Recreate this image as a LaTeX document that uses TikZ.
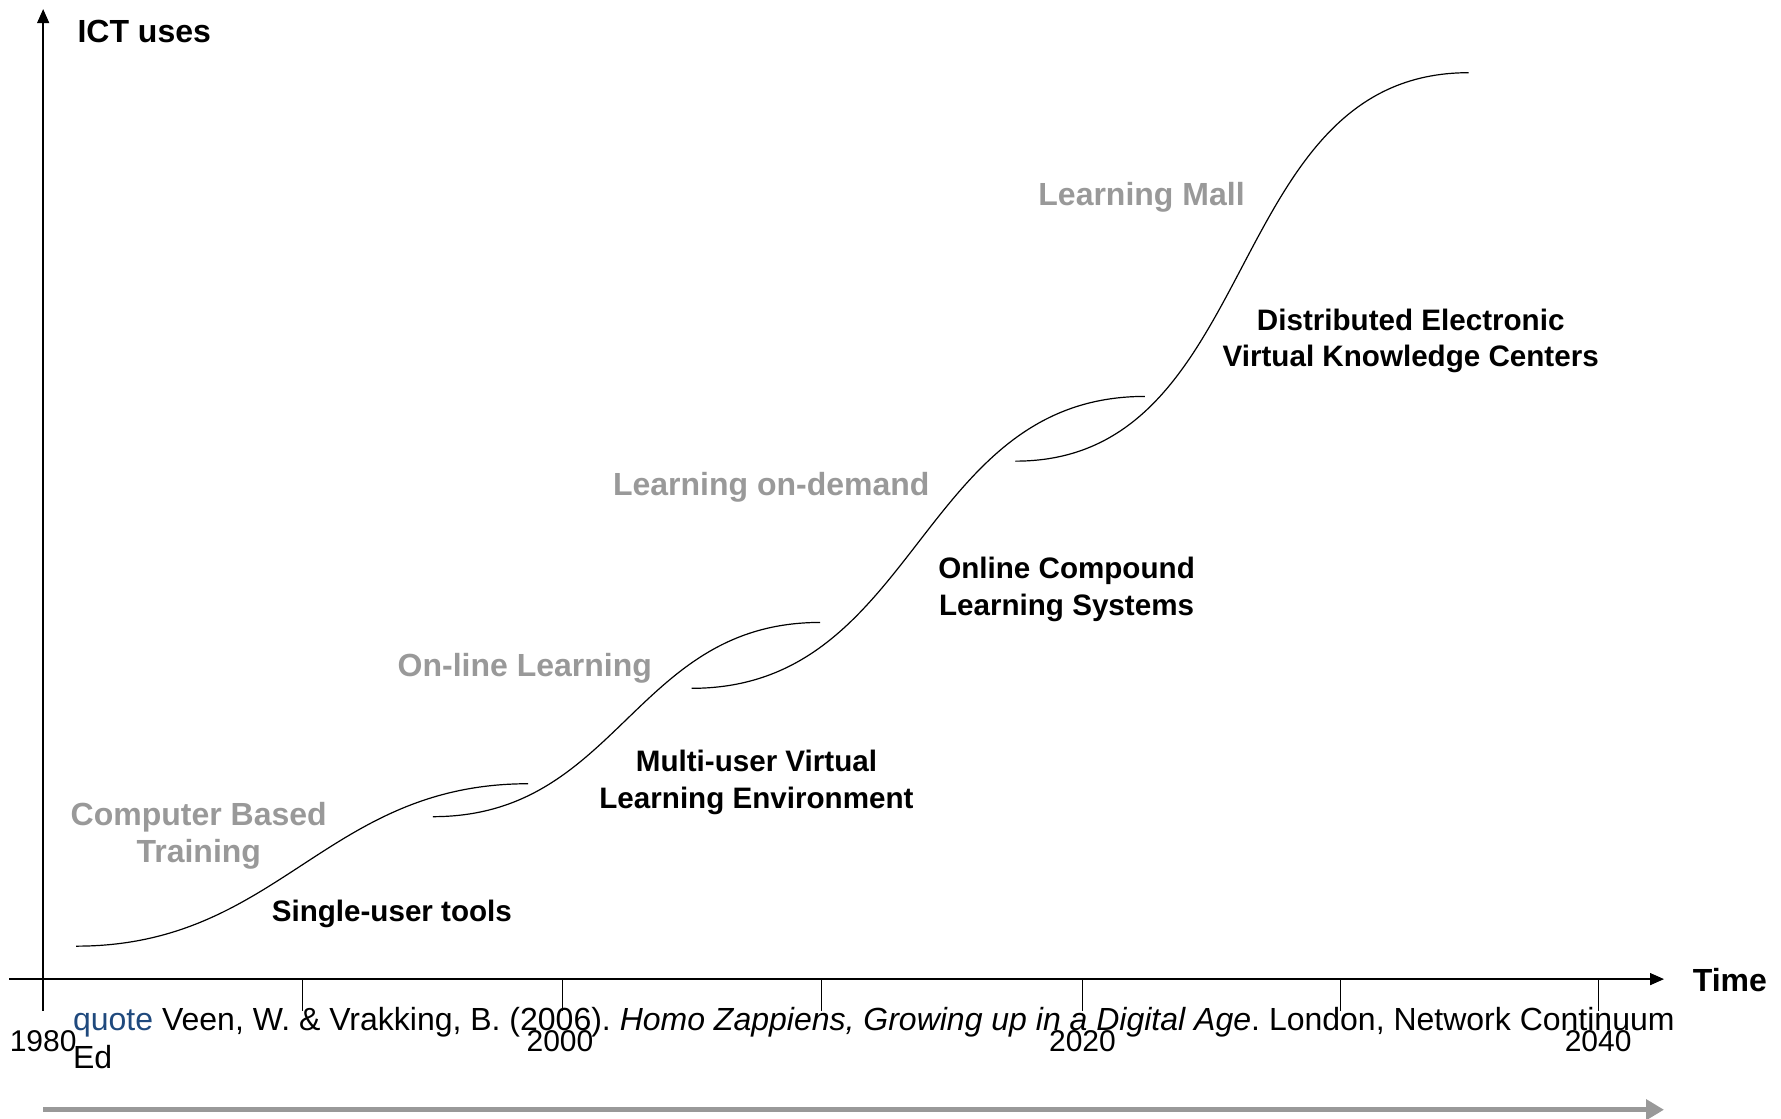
\documentclass[tikz,border=0pt]{standalone}
\usepackage{fontspec}
\setmainfont{Liberation Sans}
\usetikzlibrary{arrows.meta}
\definecolor{lblgray}{RGB}{153,153,153}
\definecolor{quoteblue}{RGB}{31,73,125}
\frenchspacing
\begin{document}
\begin{tikzpicture}[x=0.5679pt,y=-0.5679pt,
  axisline/.style={line width=0.7pt, -{Triangle[length=7pt,width=6pt]}},
  tickline/.style={line width=0.6pt},
  scurve/.style={line width=0.6pt},
  phase/.style={font=\fontsize{16}{18.7}\selectfont\bfseries, text=lblgray, align=center, inner sep=0pt},
  tool/.style={font=\fontsize{14.8}{18.2}\selectfont\bfseries, align=center, inner sep=0pt},
  axlbl/.style={font=\fontsize{16}{19}\selectfont\bfseries, inner sep=0pt},
  ticklbl/.style={font=\fontsize{15}{18}\selectfont, anchor=base, inner sep=0pt},
  citetext/.style={font=\fontsize{16}{19}\selectfont\frenchspacing, anchor=base west, inner sep=0pt},
  timearrow/.style={line width=2.5pt, lblgray, -{Triangle[length=9pt,width=10pt]}}
]
\useasboundingbox (0,0) rectangle (1568,985);

% axes
\coordinate (yb) at (38,890);
\coordinate (yt) at (38,8);
\coordinate (xl) at (8,862);
\coordinate (xr) at (1465,862);
\draw[axisline] (yb) -- (yt);
\draw[axisline] (xl) -- (xr);
\foreach \x in {266,495,723,953,1180,1407}
  \draw[tickline] (\x,862) -- (\x,890);

\node[axlbl] (ict) at (127,28) {ICT uses};
\node[axlbl] (time) at (1523,863) {Time};

\node[ticklbl] (t1980) at (38,926) {1980};
\node[ticklbl] (t2000) at (493,926) {2000};
\node[ticklbl] (t2020) at (953,926) {2020};
\node[ticklbl] (t2040) at (1407,926) {2040};

% curves
\coordinate (c1s) at (67,833);  \coordinate (c1e) at (465,690);
\coordinate (c2s) at (381,719); \coordinate (c2e) at (722,548);
\coordinate (c3s) at (609,606); \coordinate (c3e) at (1008,349);
\coordinate (c4s) at (894,406); \coordinate (c4e) at (1293,64);
\draw[scurve] (c1s) .. controls (246,833) and (286,690) .. (c1e);
\draw[scurve] (c2s) .. controls (545,719) and (558,548) .. (c2e);
\draw[scurve] (c3s) .. controls (809,606) and (808,349) .. (c3e);
\draw[scurve] (c4s) .. controls (1113,406) and (1074,64) .. (c4e);

% labels
\node[phase] (cbt) at (175,736) {Computer Based\\Training};
\node[tool] (sut) at (345,805) {Single-user tools};
\node[phase] (oll) at (462,588) {On-line Learning};
\node[tool] (mvle) at (666,689) {Multi-user Virtual\\Learning Environment};
\node[phase] (lod) at (679,429) {Learning on-demand};
\node[tool] (ocls) at (939,519) {Online Compound\\Learning Systems};
\node[phase] (lm) at (1005,174) {Learning Mall};
\node[tool] (devkc) at (1242,300) {Distributed Electronic\\Virtual Knowledge Centers};

% citation
\node[citetext] (cite1) at (64,907) {\textcolor{quoteblue}{quote} Veen, W. \& Vrakking, B. (2006). {\itshape Homo Zappiens, Growing up in a Digital Age}. London, Network Continuum};
\node[citetext] (cite2) at (64,941) {Ed};

% time arrow
\coordinate (ga1) at (38,977);
\coordinate (ga2) at (1465,977);
\draw[timearrow] (ga1) -- (ga2);
\end{tikzpicture}
\end{document}
